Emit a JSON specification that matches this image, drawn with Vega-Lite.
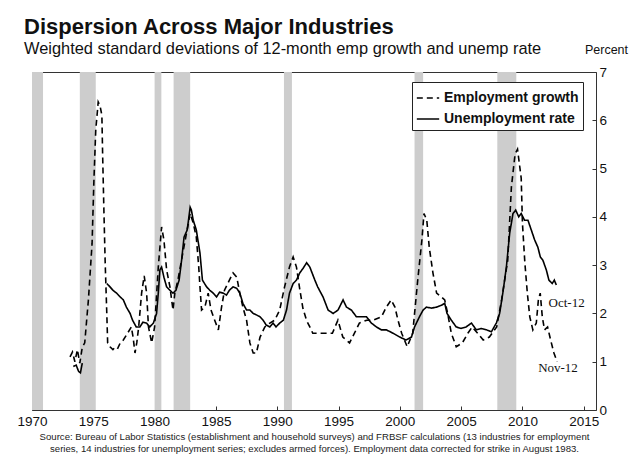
{
  "$schema": "https://vega.github.io/schema/vega-lite/v6.json",
  "width": 564,
  "height": 338,
  "autosize": {"type": "none"},
  "padding": {"left": 32, "top": 72, "right": 36, "bottom": 62},
  "background": "white",
  "title": {
    "text": "Dispersion Across Major Industries",
    "subtitle": "Weighted standard deviations of 12-month emp growth and unemp rate",
    "anchor": "start",
    "frame": "group",
    "dx": -8,
    "offset": -15,
    "font": "Liberation Sans",
    "fontSize": 22,
    "fontWeight": "bold",
    "color": "#111",
    "subtitleFont": "Liberation Sans",
    "subtitleFontSize": 16.4,
    "subtitleColor": "#111",
    "subtitlePadding": 2
  },
  "config": {
    "view": {"stroke": "#333", "strokeWidth": 1},
    "font": "Liberation Sans",
    "axisX": {
      "titleFont": "Liberation Sans", "titleFontSize": 9.6, "titleFontWeight": "normal", "titleColor": "#222", "titlePadding": 4, "titleLineHeight": 11.5,
      "labelFontSize": 13.5, "labelColor": "#111", "labelFont": "Liberation Sans",
      "labelDx": -5, "labelPadding": 8, "labelFlush": false,
      "tickSize": -4, "tickColor": "#333", "domain": false, "grid": false
    },
    "axisY": {
      "titleAngle": 0, "titleFontWeight": "normal", "titleFontSize": 12.5, "titleColor": "#111",
      "titleAlign": "center", "titleBaseline": "alphabetic", "titleX": 10, "titleY": -19, "titleFont": "Liberation Sans",
      "labelFontSize": 13.5, "labelColor": "#111", "labelFont": "Liberation Sans", "labelPadding": 7,
      "tickSize": -4, "tickColor": "#333", "domain": false, "grid": false
    }
  },
  "datasets": {
    "recessions": [
      {"start": 1970.0, "end": 1970.9},
      {"start": 1973.9, "end": 1975.2},
      {"start": 1980.0, "end": 1980.55},
      {"start": 1981.55, "end": 1982.9},
      {"start": 1990.55, "end": 1991.2},
      {"start": 2001.2, "end": 2001.9},
      {"start": 2007.95, "end": 2009.5}
    ],
    "series": [
      {"series": "Employment growth", "part": "E", "year": 1973.1, "value": 1.1},
      {"series": "Employment growth", "part": "E", "year": 1973.3, "value": 1.2},
      {"series": "Employment growth", "part": "E", "year": 1973.5, "value": 1.0},
      {"series": "Employment growth", "part": "E", "year": 1973.7, "value": 1.25},
      {"series": "Employment growth", "part": "E", "year": 1973.9, "value": 0.97},
      {"series": "Employment growth", "part": "E", "year": 1974.1, "value": 1.3},
      {"series": "Employment growth", "part": "E", "year": 1974.3, "value": 1.39},
      {"series": "Employment growth", "part": "E", "year": 1974.6, "value": 2.28},
      {"series": "Employment growth", "part": "E", "year": 1974.9, "value": 3.45},
      {"series": "Employment growth", "part": "E", "year": 1975.05, "value": 4.76},
      {"series": "Employment growth", "part": "E", "year": 1975.2, "value": 5.8},
      {"series": "Employment growth", "part": "E", "year": 1975.4, "value": 6.38},
      {"series": "Employment growth", "part": "E", "year": 1975.55, "value": 6.3},
      {"series": "Employment growth", "part": "E", "year": 1975.7, "value": 6.1},
      {"series": "Employment growth", "part": "E", "year": 1975.76, "value": 5.3},
      {"series": "Employment growth", "part": "E", "year": 1975.87, "value": 4.07},
      {"series": "Employment growth", "part": "E", "year": 1975.97, "value": 3.04},
      {"series": "Employment growth", "part": "E", "year": 1976.1, "value": 2.0},
      {"series": "Employment growth", "part": "E", "year": 1976.17, "value": 1.39},
      {"series": "Employment growth", "part": "E", "year": 1976.36, "value": 1.31},
      {"series": "Employment growth", "part": "E", "year": 1976.6, "value": 1.25},
      {"series": "Employment growth", "part": "E", "year": 1976.8, "value": 1.31},
      {"series": "Employment growth", "part": "E", "year": 1977.0, "value": 1.28},
      {"series": "Employment growth", "part": "E", "year": 1977.2, "value": 1.39},
      {"series": "Employment growth", "part": "E", "year": 1977.45, "value": 1.45},
      {"series": "Employment growth", "part": "E", "year": 1977.7, "value": 1.55},
      {"series": "Employment growth", "part": "E", "year": 1978.1, "value": 1.72},
      {"series": "Employment growth", "part": "E", "year": 1978.25, "value": 1.5},
      {"series": "Employment growth", "part": "E", "year": 1978.4, "value": 1.18},
      {"series": "Employment growth", "part": "E", "year": 1978.55, "value": 1.4},
      {"series": "Employment growth", "part": "E", "year": 1978.7, "value": 1.72},
      {"series": "Employment growth", "part": "E", "year": 1978.94, "value": 2.42},
      {"series": "Employment growth", "part": "E", "year": 1979.15, "value": 2.78},
      {"series": "Employment growth", "part": "E", "year": 1979.35, "value": 2.42},
      {"series": "Employment growth", "part": "E", "year": 1979.5, "value": 1.72},
      {"series": "Employment growth", "part": "E", "year": 1979.76, "value": 1.39},
      {"series": "Employment growth", "part": "E", "year": 1980.0, "value": 1.72},
      {"series": "Employment growth", "part": "E", "year": 1980.3, "value": 2.96},
      {"series": "Employment growth", "part": "E", "year": 1980.57, "value": 3.79},
      {"series": "Employment growth", "part": "E", "year": 1980.76, "value": 3.52},
      {"series": "Employment growth", "part": "E", "year": 1980.98, "value": 2.9},
      {"series": "Employment growth", "part": "E", "year": 1981.25, "value": 2.55},
      {"series": "Employment growth", "part": "E", "year": 1981.5, "value": 2.07},
      {"series": "Employment growth", "part": "E", "year": 1981.65, "value": 2.42},
      {"series": "Employment growth", "part": "E", "year": 1981.9, "value": 2.69},
      {"series": "Employment growth", "part": "E", "year": 1982.3, "value": 3.25},
      {"series": "Employment growth", "part": "E", "year": 1982.6, "value": 3.66},
      {"series": "Employment growth", "part": "E", "year": 1982.9, "value": 4.07},
      {"series": "Employment growth", "part": "E", "year": 1983.15, "value": 3.87},
      {"series": "Employment growth", "part": "E", "year": 1983.4, "value": 3.58},
      {"series": "Employment growth", "part": "E", "year": 1983.6, "value": 2.96},
      {"series": "Employment growth", "part": "E", "year": 1983.7, "value": 2.55},
      {"series": "Employment growth", "part": "E", "year": 1983.83, "value": 2.07},
      {"series": "Employment growth", "part": "E", "year": 1984.1, "value": 2.13},
      {"series": "Employment growth", "part": "E", "year": 1984.37, "value": 2.42},
      {"series": "Employment growth", "part": "E", "year": 1984.6, "value": 2.07},
      {"series": "Employment growth", "part": "E", "year": 1984.9, "value": 1.86},
      {"series": "Employment growth", "part": "E", "year": 1985.2, "value": 1.66},
      {"series": "Employment growth", "part": "E", "year": 1985.46, "value": 2.13},
      {"series": "Employment growth", "part": "E", "year": 1985.7, "value": 2.48},
      {"series": "Employment growth", "part": "E", "year": 1986.1, "value": 2.69},
      {"series": "Employment growth", "part": "E", "year": 1986.4, "value": 2.84},
      {"series": "Employment growth", "part": "E", "year": 1986.7, "value": 2.75},
      {"series": "Employment growth", "part": "E", "year": 1986.95, "value": 2.42},
      {"series": "Employment growth", "part": "E", "year": 1987.2, "value": 2.13},
      {"series": "Employment growth", "part": "E", "year": 1987.5, "value": 1.86},
      {"series": "Employment growth", "part": "E", "year": 1987.77, "value": 1.39},
      {"series": "Employment growth", "part": "E", "year": 1988.04, "value": 1.18},
      {"series": "Employment growth", "part": "E", "year": 1988.3, "value": 1.18},
      {"series": "Employment growth", "part": "E", "year": 1988.6, "value": 1.51},
      {"series": "Employment growth", "part": "E", "year": 1988.99, "value": 1.72},
      {"series": "Employment growth", "part": "E", "year": 1989.4, "value": 1.8},
      {"series": "Employment growth", "part": "E", "year": 1989.8, "value": 1.86},
      {"series": "Employment growth", "part": "E", "year": 1990.2, "value": 2.07},
      {"series": "Employment growth", "part": "E", "year": 1990.6, "value": 2.55},
      {"series": "Employment growth", "part": "E", "year": 1991.0, "value": 2.96},
      {"series": "Employment growth", "part": "E", "year": 1991.3, "value": 3.17},
      {"series": "Employment growth", "part": "E", "year": 1991.57, "value": 2.96},
      {"series": "Employment growth", "part": "E", "year": 1991.84, "value": 2.5},
      {"series": "Employment growth", "part": "E", "year": 1992.1, "value": 2.1},
      {"series": "Employment growth", "part": "E", "year": 1992.4, "value": 1.85},
      {"series": "Employment growth", "part": "E", "year": 1992.66, "value": 1.72},
      {"series": "Employment growth", "part": "E", "year": 1992.9, "value": 1.59},
      {"series": "Employment growth", "part": "E", "year": 1993.5, "value": 1.59},
      {"series": "Employment growth", "part": "E", "year": 1994.0, "value": 1.59},
      {"series": "Employment growth", "part": "E", "year": 1994.5, "value": 1.59},
      {"series": "Employment growth", "part": "E", "year": 1994.95, "value": 1.86},
      {"series": "Employment growth", "part": "E", "year": 1995.35, "value": 1.51},
      {"series": "Employment growth", "part": "E", "year": 1995.9, "value": 1.39},
      {"series": "Employment growth", "part": "E", "year": 1996.3, "value": 1.59},
      {"series": "Employment growth", "part": "E", "year": 1996.7, "value": 1.8},
      {"series": "Employment growth", "part": "E", "year": 1997.3, "value": 1.86},
      {"series": "Employment growth", "part": "E", "year": 1997.8, "value": 1.86},
      {"series": "Employment growth", "part": "E", "year": 1998.5, "value": 1.93},
      {"series": "Employment growth", "part": "E", "year": 1998.9, "value": 2.13},
      {"series": "Employment growth", "part": "E", "year": 1999.3, "value": 2.28},
      {"series": "Employment growth", "part": "E", "year": 1999.6, "value": 2.13},
      {"series": "Employment growth", "part": "E", "year": 1999.85, "value": 1.86},
      {"series": "Employment growth", "part": "E", "year": 2000.15, "value": 1.59},
      {"series": "Employment growth", "part": "E", "year": 2000.6, "value": 1.31},
      {"series": "Employment growth", "part": "E", "year": 2001.05, "value": 1.59},
      {"series": "Employment growth", "part": "E", "year": 2001.46, "value": 2.69},
      {"series": "Employment growth", "part": "E", "year": 2001.8, "value": 3.52},
      {"series": "Employment growth", "part": "E", "year": 2001.97, "value": 4.07},
      {"series": "Employment growth", "part": "E", "year": 2002.2, "value": 3.93},
      {"series": "Employment growth", "part": "E", "year": 2002.4, "value": 3.37},
      {"series": "Employment growth", "part": "E", "year": 2002.7, "value": 2.84},
      {"series": "Employment growth", "part": "E", "year": 2003.0, "value": 2.42},
      {"series": "Employment growth", "part": "E", "year": 2003.4, "value": 2.34},
      {"series": "Employment growth", "part": "E", "year": 2003.66, "value": 2.28},
      {"series": "Employment growth", "part": "E", "year": 2003.9, "value": 2.0},
      {"series": "Employment growth", "part": "E", "year": 2004.2, "value": 1.59},
      {"series": "Employment growth", "part": "E", "year": 2004.6, "value": 1.31},
      {"series": "Employment growth", "part": "E", "year": 2005.1, "value": 1.39},
      {"series": "Employment growth", "part": "E", "year": 2005.55, "value": 1.59},
      {"series": "Employment growth", "part": "E", "year": 2005.9, "value": 1.72},
      {"series": "Employment growth", "part": "E", "year": 2006.35, "value": 1.59},
      {"series": "Employment growth", "part": "E", "year": 2006.8, "value": 1.45},
      {"series": "Employment growth", "part": "E", "year": 2007.3, "value": 1.51},
      {"series": "Employment growth", "part": "E", "year": 2007.9, "value": 1.72},
      {"series": "Employment growth", "part": "E", "year": 2008.3, "value": 2.28},
      {"series": "Employment growth", "part": "E", "year": 2008.8, "value": 3.1},
      {"series": "Employment growth", "part": "E", "year": 2009.1, "value": 4.62},
      {"series": "Employment growth", "part": "E", "year": 2009.4, "value": 5.3},
      {"series": "Employment growth", "part": "E", "year": 2009.6, "value": 5.4},
      {"series": "Employment growth", "part": "E", "year": 2009.9, "value": 4.8},
      {"series": "Employment growth", "part": "E", "year": 2010.0, "value": 3.87},
      {"series": "Employment growth", "part": "E", "year": 2010.2, "value": 3.04},
      {"series": "Employment growth", "part": "E", "year": 2010.4, "value": 2.42},
      {"series": "Employment growth", "part": "E", "year": 2010.6, "value": 1.93},
      {"series": "Employment growth", "part": "E", "year": 2010.85, "value": 1.66},
      {"series": "Employment growth", "part": "E", "year": 2011.13, "value": 1.8},
      {"series": "Employment growth", "part": "E", "year": 2011.3, "value": 2.28},
      {"series": "Employment growth", "part": "E", "year": 2011.45, "value": 2.42},
      {"series": "Employment growth", "part": "E", "year": 2011.62, "value": 1.93},
      {"series": "Employment growth", "part": "E", "year": 2011.8, "value": 1.66},
      {"series": "Employment growth", "part": "E", "year": 2012.05, "value": 1.72},
      {"series": "Employment growth", "part": "E", "year": 2012.3, "value": 1.45},
      {"series": "Employment growth", "part": "E", "year": 2012.57, "value": 1.18},
      {"series": "Employment growth", "part": "E", "year": 2012.83, "value": 1.0},
      {"series": "Unemployment rate", "part": "U1", "year": 1973.37, "value": 0.9},
      {"series": "Unemployment rate", "part": "U1", "year": 1973.6, "value": 0.93},
      {"series": "Unemployment rate", "part": "U1", "year": 1973.8, "value": 0.8},
      {"series": "Unemployment rate", "part": "U1", "year": 1973.95, "value": 0.77},
      {"series": "Unemployment rate", "part": "U1", "year": 1974.1, "value": 0.97},
      {"series": "Unemployment rate", "part": "U2", "year": 1976.1, "value": 2.62},
      {"series": "Unemployment rate", "part": "U2", "year": 1976.36, "value": 2.55},
      {"series": "Unemployment rate", "part": "U2", "year": 1976.6, "value": 2.48},
      {"series": "Unemployment rate", "part": "U2", "year": 1976.9, "value": 2.42},
      {"series": "Unemployment rate", "part": "U2", "year": 1977.2, "value": 2.34},
      {"series": "Unemployment rate", "part": "U2", "year": 1977.45, "value": 2.28},
      {"series": "Unemployment rate", "part": "U2", "year": 1977.7, "value": 2.13},
      {"series": "Unemployment rate", "part": "U2", "year": 1978.0, "value": 2.0},
      {"series": "Unemployment rate", "part": "U2", "year": 1978.2, "value": 1.86},
      {"series": "Unemployment rate", "part": "U2", "year": 1978.5, "value": 1.72},
      {"series": "Unemployment rate", "part": "U2", "year": 1978.8, "value": 1.72},
      {"series": "Unemployment rate", "part": "U2", "year": 1979.05, "value": 1.82},
      {"series": "Unemployment rate", "part": "U2", "year": 1979.35, "value": 1.8},
      {"series": "Unemployment rate", "part": "U2", "year": 1979.6, "value": 1.72},
      {"series": "Unemployment rate", "part": "U2", "year": 1979.9, "value": 1.8},
      {"series": "Unemployment rate", "part": "U2", "year": 1980.16, "value": 2.0},
      {"series": "Unemployment rate", "part": "U2", "year": 1980.3, "value": 2.42},
      {"series": "Unemployment rate", "part": "U2", "year": 1980.43, "value": 2.9},
      {"series": "Unemployment rate", "part": "U2", "year": 1980.57, "value": 2.96},
      {"series": "Unemployment rate", "part": "U2", "year": 1980.76, "value": 2.75},
      {"series": "Unemployment rate", "part": "U2", "year": 1980.98, "value": 2.55},
      {"series": "Unemployment rate", "part": "U2", "year": 1981.25, "value": 2.48},
      {"series": "Unemployment rate", "part": "U2", "year": 1981.5, "value": 2.42},
      {"series": "Unemployment rate", "part": "U2", "year": 1981.74, "value": 2.48},
      {"series": "Unemployment rate", "part": "U2", "year": 1982.0, "value": 2.69},
      {"series": "Unemployment rate", "part": "U2", "year": 1982.2, "value": 3.1},
      {"series": "Unemployment rate", "part": "U2", "year": 1982.4, "value": 3.58},
      {"series": "Unemployment rate", "part": "U2", "year": 1982.66, "value": 3.73},
      {"series": "Unemployment rate", "part": "U2", "year": 1982.9, "value": 4.2},
      {"series": "Unemployment rate", "part": "U2", "year": 1983.0, "value": 4.14},
      {"series": "Unemployment rate", "part": "U2", "year": 1983.15, "value": 3.93},
      {"series": "Unemployment rate", "part": "U2", "year": 1983.4, "value": 3.73},
      {"series": "Unemployment rate", "part": "U2", "year": 1983.7, "value": 3.25},
      {"series": "Unemployment rate", "part": "U2", "year": 1983.9, "value": 2.69},
      {"series": "Unemployment rate", "part": "U2", "year": 1984.24, "value": 2.55},
      {"series": "Unemployment rate", "part": "U2", "year": 1984.5, "value": 2.48},
      {"series": "Unemployment rate", "part": "U2", "year": 1984.78, "value": 2.42},
      {"series": "Unemployment rate", "part": "U2", "year": 1985.05, "value": 2.34},
      {"series": "Unemployment rate", "part": "U2", "year": 1985.3, "value": 2.44},
      {"series": "Unemployment rate", "part": "U2", "year": 1985.6, "value": 2.42},
      {"series": "Unemployment rate", "part": "U2", "year": 1985.86, "value": 2.38},
      {"series": "Unemployment rate", "part": "U2", "year": 1986.1, "value": 2.48},
      {"series": "Unemployment rate", "part": "U2", "year": 1986.4, "value": 2.55},
      {"series": "Unemployment rate", "part": "U2", "year": 1986.7, "value": 2.52},
      {"series": "Unemployment rate", "part": "U2", "year": 1986.95, "value": 2.42},
      {"series": "Unemployment rate", "part": "U2", "year": 1987.2, "value": 2.21},
      {"series": "Unemployment rate", "part": "U2", "year": 1987.5, "value": 2.07},
      {"series": "Unemployment rate", "part": "U2", "year": 1987.77, "value": 2.07},
      {"series": "Unemployment rate", "part": "U2", "year": 1988.04, "value": 2.0},
      {"series": "Unemployment rate", "part": "U2", "year": 1988.3, "value": 1.97},
      {"series": "Unemployment rate", "part": "U2", "year": 1988.6, "value": 1.93},
      {"series": "Unemployment rate", "part": "U2", "year": 1988.85, "value": 1.86},
      {"series": "Unemployment rate", "part": "U2", "year": 1989.1, "value": 1.76},
      {"series": "Unemployment rate", "part": "U2", "year": 1989.4, "value": 1.72},
      {"series": "Unemployment rate", "part": "U2", "year": 1989.66, "value": 1.8},
      {"series": "Unemployment rate", "part": "U2", "year": 1989.9, "value": 1.72},
      {"series": "Unemployment rate", "part": "U2", "year": 1990.2, "value": 1.8},
      {"series": "Unemployment rate", "part": "U2", "year": 1990.5, "value": 1.86},
      {"series": "Unemployment rate", "part": "U2", "year": 1990.76, "value": 2.07},
      {"series": "Unemployment rate", "part": "U2", "year": 1991.0, "value": 2.42},
      {"series": "Unemployment rate", "part": "U2", "year": 1991.3, "value": 2.62},
      {"series": "Unemployment rate", "part": "U2", "year": 1991.57, "value": 2.69},
      {"series": "Unemployment rate", "part": "U2", "year": 1991.84, "value": 2.84},
      {"series": "Unemployment rate", "part": "U2", "year": 1992.1, "value": 2.93},
      {"series": "Unemployment rate", "part": "U2", "year": 1992.4, "value": 3.05},
      {"series": "Unemployment rate", "part": "U2", "year": 1992.66, "value": 2.96},
      {"series": "Unemployment rate", "part": "U2", "year": 1993.07, "value": 2.69},
      {"series": "Unemployment rate", "part": "U2", "year": 1993.3, "value": 2.55},
      {"series": "Unemployment rate", "part": "U2", "year": 1993.74, "value": 2.34},
      {"series": "Unemployment rate", "part": "U2", "year": 1994.15, "value": 2.07},
      {"series": "Unemployment rate", "part": "U2", "year": 1994.56, "value": 2.0},
      {"series": "Unemployment rate", "part": "U2", "year": 1994.96, "value": 2.07},
      {"series": "Unemployment rate", "part": "U2", "year": 1995.37, "value": 2.28},
      {"series": "Unemployment rate", "part": "U2", "year": 1995.65, "value": 2.13},
      {"series": "Unemployment rate", "part": "U2", "year": 1996.05, "value": 2.07},
      {"series": "Unemployment rate", "part": "U2", "year": 1996.46, "value": 1.93},
      {"series": "Unemployment rate", "part": "U2", "year": 1996.87, "value": 1.93},
      {"series": "Unemployment rate", "part": "U2", "year": 1997.28, "value": 1.93},
      {"series": "Unemployment rate", "part": "U2", "year": 1997.68, "value": 1.8},
      {"series": "Unemployment rate", "part": "U2", "year": 1998.09, "value": 1.72},
      {"series": "Unemployment rate", "part": "U2", "year": 1998.5, "value": 1.66},
      {"series": "Unemployment rate", "part": "U2", "year": 1998.9, "value": 1.66},
      {"series": "Unemployment rate", "part": "U2", "year": 1999.45, "value": 1.59},
      {"series": "Unemployment rate", "part": "U2", "year": 2000.0, "value": 1.51},
      {"series": "Unemployment rate", "part": "U2", "year": 2000.5, "value": 1.45},
      {"series": "Unemployment rate", "part": "U2", "year": 2000.95, "value": 1.51},
      {"series": "Unemployment rate", "part": "U2", "year": 2001.2, "value": 1.72},
      {"series": "Unemployment rate", "part": "U2", "year": 2001.6, "value": 1.93},
      {"series": "Unemployment rate", "part": "U2", "year": 2001.9, "value": 2.07},
      {"series": "Unemployment rate", "part": "U2", "year": 2002.17, "value": 2.13},
      {"series": "Unemployment rate", "part": "U2", "year": 2002.58, "value": 2.11},
      {"series": "Unemployment rate", "part": "U2", "year": 2002.99, "value": 2.13},
      {"series": "Unemployment rate", "part": "U2", "year": 2003.4, "value": 2.17},
      {"series": "Unemployment rate", "part": "U2", "year": 2003.66, "value": 2.21},
      {"series": "Unemployment rate", "part": "U2", "year": 2003.85, "value": 2.0},
      {"series": "Unemployment rate", "part": "U2", "year": 2004.2, "value": 1.86},
      {"series": "Unemployment rate", "part": "U2", "year": 2004.6, "value": 1.72},
      {"series": "Unemployment rate", "part": "U2", "year": 2005.0, "value": 1.69},
      {"series": "Unemployment rate", "part": "U2", "year": 2005.4, "value": 1.72},
      {"series": "Unemployment rate", "part": "U2", "year": 2005.84, "value": 1.8},
      {"series": "Unemployment rate", "part": "U2", "year": 2006.24, "value": 1.66},
      {"series": "Unemployment rate", "part": "U2", "year": 2006.65, "value": 1.69},
      {"series": "Unemployment rate", "part": "U2", "year": 2007.06, "value": 1.66},
      {"series": "Unemployment rate", "part": "U2", "year": 2007.47, "value": 1.62},
      {"series": "Unemployment rate", "part": "U2", "year": 2007.87, "value": 1.8},
      {"series": "Unemployment rate", "part": "U2", "year": 2008.14, "value": 2.0},
      {"series": "Unemployment rate", "part": "U2", "year": 2008.4, "value": 2.42},
      {"series": "Unemployment rate", "part": "U2", "year": 2008.69, "value": 2.96},
      {"series": "Unemployment rate", "part": "U2", "year": 2008.96, "value": 3.66},
      {"series": "Unemployment rate", "part": "U2", "year": 2009.23, "value": 4.07},
      {"series": "Unemployment rate", "part": "U2", "year": 2009.45, "value": 4.14},
      {"series": "Unemployment rate", "part": "U2", "year": 2009.7, "value": 4.0},
      {"series": "Unemployment rate", "part": "U2", "year": 2009.9, "value": 4.07},
      {"series": "Unemployment rate", "part": "U2", "year": 2010.17, "value": 3.93},
      {"series": "Unemployment rate", "part": "U2", "year": 2010.45, "value": 3.93},
      {"series": "Unemployment rate", "part": "U2", "year": 2010.72, "value": 3.73},
      {"series": "Unemployment rate", "part": "U2", "year": 2011.0, "value": 3.52},
      {"series": "Unemployment rate", "part": "U2", "year": 2011.26, "value": 3.37},
      {"series": "Unemployment rate", "part": "U2", "year": 2011.46, "value": 3.17},
      {"series": "Unemployment rate", "part": "U2", "year": 2011.67, "value": 3.1},
      {"series": "Unemployment rate", "part": "U2", "year": 2011.95, "value": 2.9},
      {"series": "Unemployment rate", "part": "U2", "year": 2012.16, "value": 2.69},
      {"series": "Unemployment rate", "part": "U2", "year": 2012.43, "value": 2.62},
      {"series": "Unemployment rate", "part": "U2", "year": 2012.6, "value": 2.69},
      {"series": "Unemployment rate", "part": "U2", "year": 2012.76, "value": 2.59}
    ],
    "notes": [
      {"label": "Oct-12", "year": 2013.6, "value": 2.22},
      {"label": "Nov-12", "year": 2012.9, "value": 0.88}
    ]
  },
  "layer": [
    {
      "data": {"name": "recessions"},
      "mark": {"type": "rect", "color": "#cdcdcd"},
      "encoding": {
        "x": {"field": "start", "type": "quantitative", "scale": {"domain": [1970, 2016], "nice": false, "zero": false}},
        "x2": {"field": "end"}
      }
    },
    {
      "data": {"name": "series"},
      "mark": {"type": "line", "color": "#000", "strokeWidth": 1.6, "interpolate": "linear"},
      "encoding": {
        "x": {
          "field": "year", "type": "quantitative",
          "scale": {"domain": [1970, 2016], "nice": false, "zero": false},
          "title": ["Source: Bureau of Labor Statistics (establishment and household surveys) and FRBSF calculations (13 industries for employment", "series, 14 industries for unemployment series; excludes armed forces). Employment data corrected for strike in August 1983."],
          "axis": {"values": [1970, 1975, 1980, 1985, 1990, 1995, 2000, 2005, 2010, 2015], "format": "d"}
        },
        "y": {
          "field": "value", "type": "quantitative",
          "scale": {"domain": [0, 7], "nice": false},
          "title": "Percent",
          "axis": {"orient": "right", "values": [0, 1, 2, 3, 4, 5, 6, 7]}
        },
        "strokeDash": {
          "field": "series", "type": "nominal",
          "scale": {"domain": ["Employment growth", "Unemployment rate"], "range": [[6, 4], [1, 0]]},
          "legend": {
            "orient": "none", "legendX": 380, "legendY": 10, "title": null,
            "strokeColor": "#222", "padding": 4, "fillColor": "white",
            "labelFont": "Liberation Sans", "labelFontSize": 14, "labelFontWeight": "bold", "labelColor": "#111",
            "symbolType": "stroke", "symbolSize": 500, "symbolStrokeWidth": 1.5, "symbolStrokeColor": "#000",
            "rowPadding": 2, "labelOffset": 4
          }
        },
        "detail": {"field": "part"}
      }
    },
    {
      "data": {"name": "notes"},
      "mark": {"type": "text", "font": "Liberation Serif", "fontSize": 13, "color": "#111"},
      "encoding": {
        "x": {"field": "year", "type": "quantitative"},
        "y": {"field": "value", "type": "quantitative"},
        "text": {"field": "label"}
      }
    }
  ]
}
